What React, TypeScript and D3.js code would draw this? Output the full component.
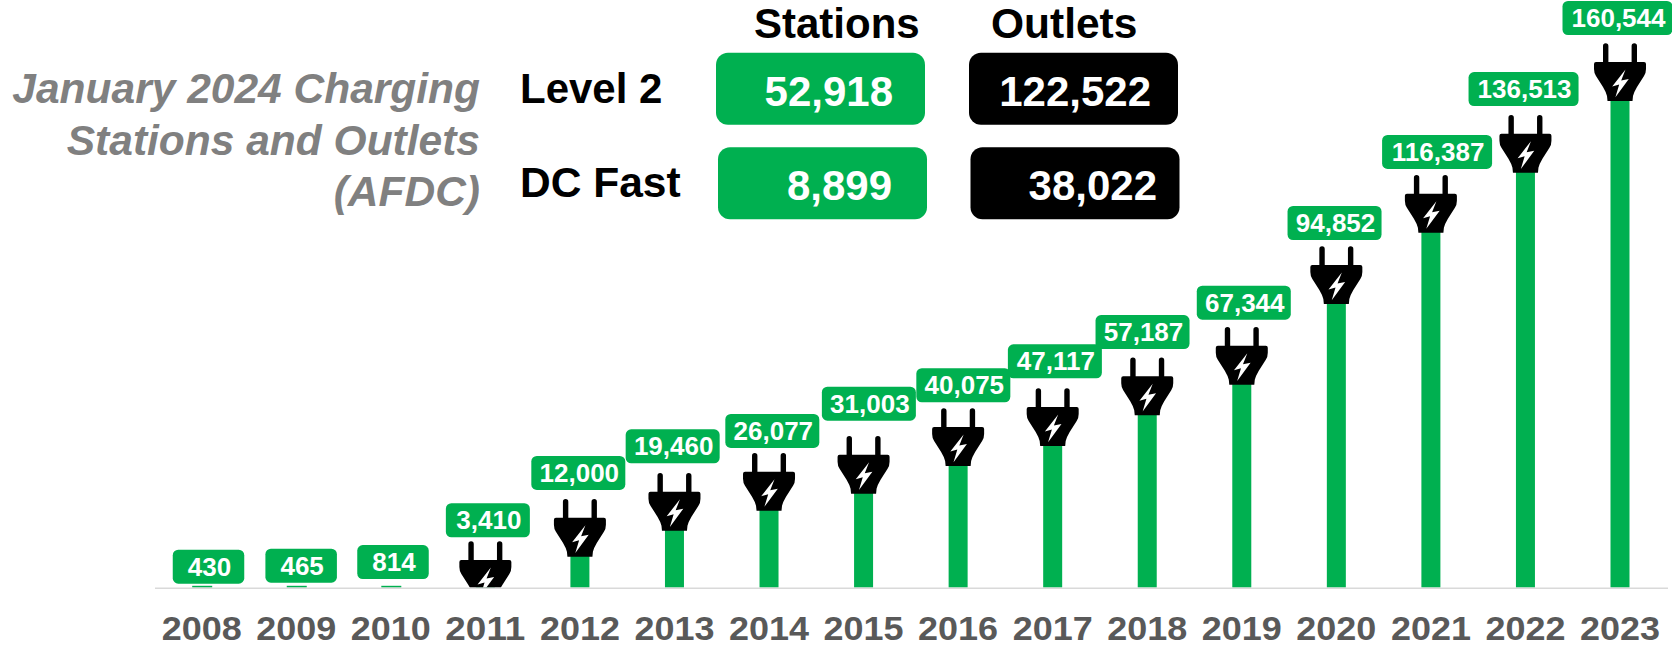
import React from "react";
import * as d3 from "d3";

const years = ["2008", "2009", "2010", "2011", "2012", "2013", "2014", "2015", "2016", "2017", "2018", "2019", "2020", "2021", "2022", "2023"];
const stations = [430, 465, 814, 3410, 12000, 19460, 26077, 31003, 40075, 47117, 57187, 67344, 94852, 116387, 136513, 160544];

const titleLines = ["January 2024 Charging", "Stations and Outlets", "(AFDC)"];
const columnHeads = ["Stations", "Outlets"];
const rowNames = ["Level 2", "DC Fast"];
const stationCounts = [52918, 8899];
const outletCounts = [122522, 38022];

// hand placement from the original slide, the labels and plugs don't sit evenly
const labelShift = [6.8, 4.9, 2.2, 2.5, -1.6, -1.8, 3.3, 5.3, 5.2, 2.2, -4.7, 2, -1.8, 6.2, -1.9, -2.5];
const labelGap = [3.3, 4.2, 6.8, 40.7, 61.9, 65.9, 61.2, 73.5, 64.4, 67, 65.7, 64.2, 60.4, 66.1, 67.9, 66];
const plugDrop = [0, 0, 0, 21, 4.8, 1.5, 1.5, -0.5, -0.7, 0.7, 0.6, 0.8, 3.6, -2.4, -1.2, 0];

const WIDTH = 1672;
const HEIGHT = 647;
const BASE = 588.3;
const GREEN = "#00b050";
const FONT = "'Liberation Sans', Arial, sans-serif";
const fmt = d3.format(",");

const x = d3.scalePoint<string>().domain(years).range([201.7, 1620]);
const y = d3.scaleLinear().domain([0, 160544]).range([BASE, 101]);

// plug glyph, origin at the middle of its bottom edge
const plugBody =
  "M-12.5,0 L-13,-5 Q-14,-9 -17,-14 L-24,-25 Q-26,-28 -26,-32 L-26,-37 Q-26,-39 -24,-39 L-17,-39 L-17,-55 A2.7,2.7 0 0 1 -11.6,-55 L-11.6,-39 L11.6,-39 L11.6,-55 A2.7,2.7 0 0 1 17,-55 L17,-39 L24,-39 Q26,-39 26,-37 L26,-32 Q26,-28 24,-25 L17,-14 Q14,-9 13,-5 L12.5,0 Z";
const plugBolt = "M5.5,-31.5 L-7.8,-14.5 L-0.8,-16.5 L-4.6,-3.8 L8.8,-22 L1.2,-20.5 Z";

function labelWidth(v: number) {
  if (v >= 100000) return 110;
  if (v >= 10000) return 94;
  if (v >= 1000) return 84;
  return 71.5;
}

function CountBox({ bx, by, fill, value, textEnd, baseline }) {
  return (
    <g>
      <rect x={bx} y={by} width={209} height={72} rx={12} fill={fill} />
      <text x={textEnd} y={baseline} textAnchor="end" fontSize={42} fontWeight="bold" fill="#fff">
        {fmt(value)}
      </text>
    </g>
  );
}

export default function App() {
  return (
    <svg
      width={WIDTH}
      height={HEIGHT}
      viewBox={`0 0 ${WIDTH} ${HEIGHT}`}
      style={{ position: "absolute", left: 0, top: 0, background: "#fff", fontFamily: FONT }}
    >
      <defs>
        <clipPath id="aboveBase">
          <rect x={0} y={0} width={WIDTH} height={BASE - 0.8} />
        </clipPath>
      </defs>

      {titleLines.map((line, i) => (
        <text key={line} x={480} y={103 + i * 51.5} textAnchor="end" fontSize={42.5} fontWeight="bold" fontStyle="italic" fill="#808080">
          {line}
        </text>
      ))}

      <text x={754} y={38} fontSize={42} fontWeight="bold">{columnHeads[0]}</text>
      <text x={991} y={38} fontSize={42.5} fontWeight="bold">{columnHeads[1]}</text>
      <text x={520} y={103} fontSize={42} fontWeight="bold">{rowNames[0]}</text>
      <text x={520} y={197} fontSize={42.5} fontWeight="bold">{rowNames[1]}</text>

      <CountBox bx={716} by={52.7} fill={GREEN} value={stationCounts[0]} textEnd={893} baseline={106} />
      <CountBox bx={969} by={52.7} fill="#000" value={outletCounts[0]} textEnd={1151} baseline={106} />
      <CountBox bx={718} by={147.3} fill={GREEN} value={stationCounts[1]} textEnd={892} baseline={200} />
      <CountBox bx={970.5} by={147.3} fill="#000" value={outletCounts[1]} textEnd={1157} baseline={200} />

      {/* bars */}
      {years.map((yr, i) => {
        const top = Math.min(y(stations[i]), i < 3 ? BASE - 2.5 : y(stations[i]) + plugDrop[i] - 2);
        return <rect key={yr} x={x(yr)! - 9.5} y={top} width={i < 3 ? 20 : 19} height={BASE - 0.8 - top} fill={GREEN} />;
      })}

      {/* plugs, the first three years have none */}
      <g clipPath="url(#aboveBase)">
        {years.map((yr, i) =>
          i < 3 ? null : (
            <g key={yr} transform={`translate(${x(yr)},${y(stations[i]) + plugDrop[i]})`}>
              <path d={plugBody} fill="#000" />
              <path d={plugBolt} fill="#fff" />
            </g>
          )
        )}
      </g>

      <line x1={155} x2={1668} y1={BASE} y2={BASE} stroke="#d9d9d9" strokeWidth={1.5} />

      {/* value labels */}
      {years.map((yr, i) => {
        const w = labelWidth(stations[i]);
        const cx = x(yr)! + labelShift[i];
        const bottom = y(stations[i]) - labelGap[i];
        return (
          <g key={yr}>
            <rect x={cx - w / 2} y={bottom - 34} width={w} height={34} rx={5.5} fill={GREEN} />
            <text x={cx + 1} y={bottom - 8} textAnchor="middle" fontSize={26} fontWeight="bold" fill="#fff">
              {fmt(stations[i])}
            </text>
          </g>
        );
      })}

      {/* slightly wide in the original, so stretch to the measured width */}
      {years.map((yr) => (
        <text key={yr} x={x(yr)! - 40} y={640} textLength={80} lengthAdjust="spacingAndGlyphs" fontSize={33} fontWeight="bold" fill="#595959">
          {yr}
        </text>
      ))}
    </svg>
  );
}
